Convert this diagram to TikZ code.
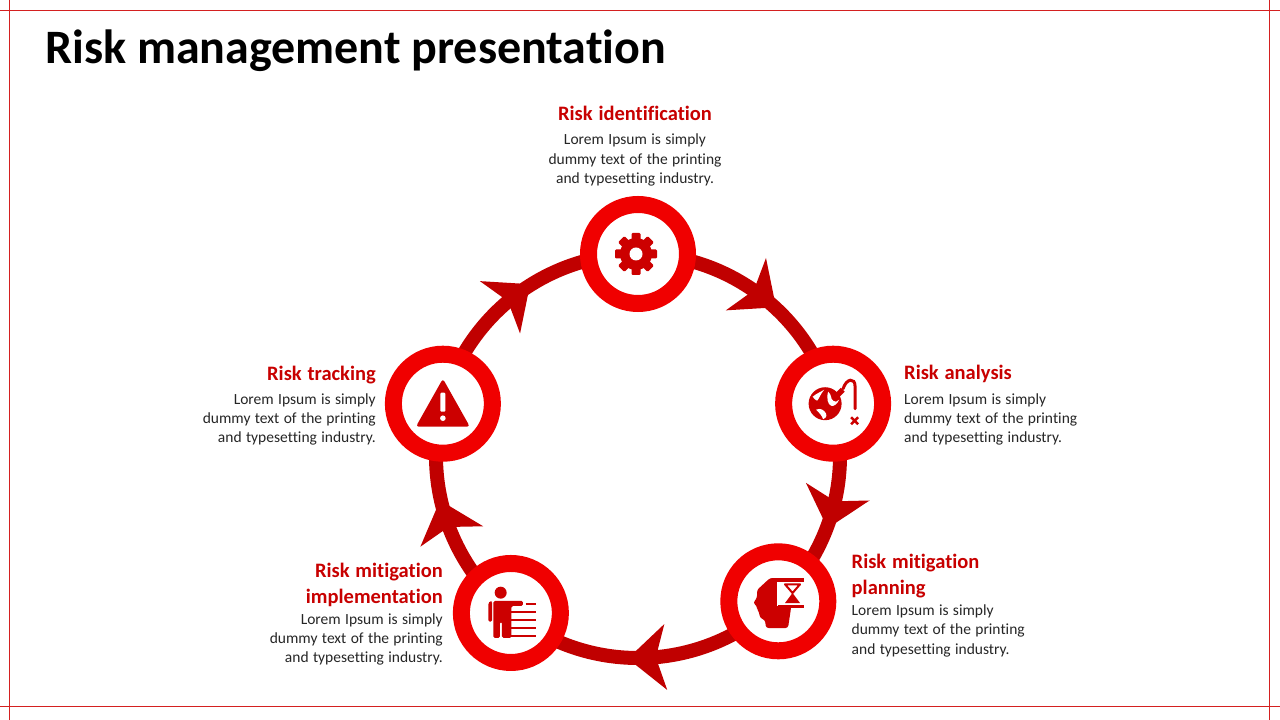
\documentclass[tikz,border=0pt]{standalone}
\usepackage{fontspec}
\setmainfont{Carlito}[Ligatures=NoCommon, WordSpace={1.25}]
\newfontfamily\titlefont{Carlito}[Ligatures=NoCommon]
\usetikzlibrary{decorations.markings,backgrounds}
\definecolor{ringred}{HTML}{F00000}
\definecolor{bandred}{HTML}{C00000}
\definecolor{iconred}{HTML}{CC0000}
\definecolor{headred}{HTML}{C80000}
\definecolor{bodygray}{HTML}{262626}
\definecolor{framered}{HTML}{D42020}
\begin{document}
\begin{tikzpicture}[x=1pt,y=1pt,
  ringnode/.style={circle, draw=ringred, line width=17pt, fill=white, minimum size=99pt, inner sep=0pt},
  band/.style={draw=bandred, line width=14pt},
  midarrow/.style={postaction={decorate}, decoration={markings, mark=at position 0.5 with {\fill[bandred] (19,0) -- (-19,33) -- (-9,0) -- (-19,-33) -- cycle;}}},
  titletext/.style={font=\titlefont\fontsize{48}{58}\selectfont\bfseries, text=black, inner sep=0pt},
  headtext/.style={font=\fontsize{20.5}{26}\selectfont\bfseries, text=headred, inner sep=0pt},
  bodytext/.style={font=\fontsize{15.5}{19.2}\selectfont, text=bodygray, inner sep=0pt},
  frameline/.style={draw=framered, line width=1pt},
  iconfill/.style={fill=iconred, draw=none}
]
\useasboundingbox (0,0) rectangle (1280,720);

% frame lines
\draw[frameline] (0,709) -- (1280,709);
\draw[frameline] (0,13) -- (1280,13);
\draw[frameline] (9,0) -- (9,720);
\draw[frameline] (1269,0) -- (1269,720);

% title
\node[titletext, anchor=base west] (title) at (45,656) {Risk management presentation};

% cycle nodes
\coordinate (O) at (638,264);
\node[ringnode] (nT) at ([shift={(90:202)}]O) {};
\node[ringnode] (nA) at ([shift={(15:202)}]O) {};
\node[ringnode] (nP) at ([shift={(-46:202)}]O) {};
\node[ringnode] (nI) at ([shift={(-129:202)}]O) {};
\node[ringnode] (nK) at ([shift={(165:202)}]O) {};

\begin{scope}[on background layer]
  \fill[white] (0,0) rectangle (1280,720);
  \draw[band, midarrow] (nT.center) arc[start angle=90, end angle=15, radius=202];
  \draw[band, midarrow] (nA.center) arc[start angle=15, end angle=-46, radius=202];
  \draw[band, midarrow] (nP.center) arc[start angle=-46, end angle=-129, radius=202];
  \draw[band, midarrow] (nI.center) arc[start angle=-129, end angle=-195, radius=202];
  \draw[band, midarrow] (nK.center) arc[start angle=165, end angle=90, radius=202];
\end{scope}

% gear icon
\begin{scope}[shift={(nT.center)}, xshift=-2pt]
  \fill[iconred] (0,0) circle (16);
  \foreach \a in {0,45,...,315}
    \fill[iconred, rotate=\a, rounded corners=1.2pt] (-4.5,12) rectangle (4.5,21);
  \fill[white] (0,0) circle (6.5);
\end{scope}

% globe bomb icon
\begin{scope}[shift={(nA.center)}]
  \fill[iconred] (-8,0) circle (16.5);
  \fill[white] (-20.5,7) .. controls (-17,10) and (-12,12) .. (-9,14) .. controls (-13,9) and (-14,5) .. (-16,3) .. controls (-18,4) .. cycle;
  \fill[white] (-5,12) .. controls (-1,9) and (-3,5) .. (0,3) .. controls (2,1) and (4,2) .. (6,4) .. controls (4,-1) and (0,-3) .. (-2,-2) .. controls (-5,-1) and (-7,5) .. cycle;
  \fill[white] (-17,-6) .. controls (-13,-4) and (-9,-6) .. (-7,-10) .. controls (-6,-13) and (-8,-15) .. (-10,-15.5) .. controls (-11,-12) and (-14,-9) .. cycle;
  \fill[iconred, rotate around={45:(7,11)}] (3,8.5) rectangle (11,14);
  \draw[iconred, line width=3pt, line cap=round] (10,15) .. controls (13,25) and (22,27) .. (22,17) -- (22,-5);
  \draw[iconred, line width=2.5pt] (18,-20.5) -- (25,-13.5) (18,-13.5) -- (25,-20.5);
\end{scope}

% head with hourglass icon
\begin{scope}[shift={(nP.center)}]
  \fill[iconred, rounded corners=2.5pt] (9.7,-26.7) -- (-12.3,-26.7) -- (-13.3,-18.7) -- (-18.3,-16.7) -- (-19.3,-10.7) -- (-21.3,-7.7) -- (-21.3,-4.7) -- (-25.3,-1.7) -- (-21.3,3.3) -- (-21.3,11.3) -- (-8.3,23.3) -- (6.7,23.3) -- (13.7,11.3) -- (12.7,-6.7) -- cycle;
  \fill[white] (-1.3,20.3) rectangle (24.7,-4.7);
  \fill[iconred] (-2.3,23.3) rectangle (25.7,19.8);
  \fill[iconred] (-0.3,-3.2) rectangle (25.7,-6.7);
  \draw[iconred, line width=2pt, line join=round] (6.7,17) -- (21.7,17) -- (14.2,8.3) -- cycle;
  \fill[iconred] (14.2,8.3) -- (21.7,-1.7) -- (6.7,-1.7) -- cycle;
\end{scope}

% person with list icon
\begin{scope}[shift={(nI.center)}]
  \fill[iconred] (-10.2,20.3) circle (6);
  \fill[iconred, rounded corners=1.5pt] (-17.6,12) -- (12.1,12) -- (12.1,7) -- (0.6,7) -- (0.6,-25) -- (-8.9,-25) -- (-8.9,-9) -- (-10.9,-9) -- (-10.9,-25) -- (-17.6,-25) -- cycle;
  \fill[iconred, rounded corners=1.5pt] (-22.6,-8.7) -- (-22.6,10) -- (-20.5,11.8) -- (-18.8,11.8) -- (-18.8,-8.7) -- cycle;
  \foreach \yy in {0.7,-7,-14.7,-23}
    \draw[iconred, line width=2.2pt] (-0.9,\yy) -- (25.1,\yy);
  \draw[iconred, line width=2.2pt] (14.8,9) -- (25.1,9);
\end{scope}

% warning icon
\begin{scope}[shift={(nK.center)}]
  \fill[iconred, rounded corners=3pt] (0,25) -- (27,-23) -- (-27,-23) -- cycle;
  \fill[white, rounded corners=1pt] (-2.5,11) rectangle (2.5,-8);
  \fill[white] (0,-14.5) circle (2.8);
\end{scope}

% texts (base anchor of a multi-line node = baseline of its last line)
\node[headtext, anchor=base] (hT) at (635,599) {Risk identification};
\node[bodytext, anchor=base, align=center] (bT) at (635,536.6) {Lorem Ipsum is simply\\dummy text of the printing\\and typesetting industry.};

\node[headtext, anchor=base west] (hA) at (904,340) {Risk analysis};
\node[bodytext, anchor=base west, align=left] (bA) at (904,277.3) {Lorem Ipsum is simply\\dummy text of the printing\\and typesetting industry.};

\node[headtext, anchor=base west, align=left] (hP) at (851.5,125) {Risk mitigation\\planning};
\node[bodytext, anchor=base west, align=left] (bP) at (851.5,65.9) {Lorem Ipsum is simply\\dummy text of the printing\\and typesetting industry.};

\node[headtext, anchor=base east, align=right] (hI) at (443,116.3) {Risk mitigation\\implementation};
\node[bodytext, anchor=base east, align=right] (bI) at (443,57.3) {Lorem Ipsum is simply\\dummy text of the printing\\and typesetting industry.};

\node[headtext, anchor=base east] (hK) at (376,339) {Risk tracking};
\node[bodytext, anchor=base east, align=right] (bK) at (376,277.3) {Lorem Ipsum is simply\\dummy text of the printing\\and typesetting industry.};

\end{tikzpicture}
\end{document}
